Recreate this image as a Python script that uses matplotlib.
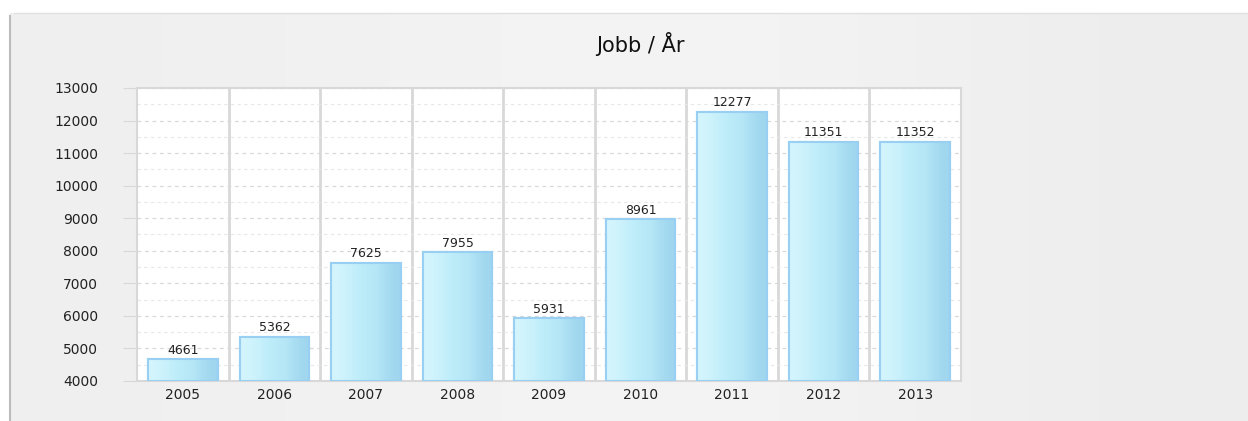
import numpy as np
import matplotlib.pyplot as plt
from matplotlib.patches import Rectangle
from matplotlib.ticker import MultipleLocator
from matplotlib.colors import LinearSegmentedColormap

# data
years = ['2005', '2006', '2007', '2008', '2009', '2010', '2011', '2012', '2013']
jobs = [4661, 5362, 7625, 7955, 5931, 8961, 12277, 11351, 11352]
y_ticks = [4000, 5000, 6000, 7000, 8000, 9000, 10000, 11000, 12000, 13000]

fig = plt.figure(figsize=(12.48, 4.21), dpi=100)
fig.patch.set_facecolor('white')

# grey panel behind everything (with a light horizontal gradient)
bg = fig.add_axes([0, 0, 1, 1], zorder=-10)
bg.set_xlim(0, 1248)
bg.set_ylim(421, 0)
bg.axis('off')
grad = np.array([[0.935, 0.95, 0.955, 0.925]])
bg.imshow(grad, cmap='gray', vmin=0, vmax=1, aspect='auto',
          extent=[10, 1248, 421, 13], interpolation='bicubic')
bg.plot([10, 10], [421, 16], color='#bbbbbb', lw=1.5)
bg.plot([14, 1248], [13, 13], color='#e0e0e0', lw=1)

fig.text(0.513, 0.895, 'Jobb / År', ha='center', va='center',
         fontsize=15, color='#111111')

ax = fig.add_axes([137 / 1248, 1 - 381 / 421, (961 - 137) / 1248, (381 - 88) / 421])
ax.set_facecolor('white')
ax.set_xlim(-0.5, len(years) - 0.5)
ax.set_ylim(4000, 13000)
x = np.arange(len(years))
bars = ax.bar(x, jobs, width=0.76, color='#c6eefa', edgecolor='#99cff2',
              linewidth=1.5, zorder=3)

# gradient fill clipped to each bar
g = np.array([[0.0, 0.35, 0.6, 1.0]])
cm = LinearSegmentedColormap.from_list('bar', ['#d4f5fd', '#c0eefa', '#b4e6f6', '#9fd6ee'])
ybot = ax.get_ylim()[0]
for b in bars:
    im = ax.imshow(g, cmap=cm, aspect='auto', interpolation='bicubic',
                   extent=[b.get_x(), b.get_x() + b.get_width(), ybot, b.get_height()],
                   zorder=3.5)
    im.set_clip_path(b)
    ax.add_patch(Rectangle((b.get_x(), ybot), b.get_width(), b.get_height() - ybot,
                           fill=False, edgecolor='#99cff2', lw=1.5, zorder=4))

for xi, v in zip(x, jobs):
    ax.text(xi, v + 80, str(v), ha='center', va='bottom', fontsize=9,
            color='#222222', zorder=5)

ax.set_xlim(-0.5, len(years) - 0.5)
ax.set_ylim(4000, 13000)
ax.set_yticks(y_ticks)
ax.set_yticklabels([str(t) for t in y_ticks])
ax.yaxis.set_minor_locator(MultipleLocator(500))
ax.set_xticks(x)
ax.set_xticklabels(years)

ax.grid(axis='y', which='major', color='#d8d8d8', linestyle=(0, (3, 3)), lw=0.9, zorder=0)
ax.grid(axis='y', which='minor', color='#e8e8e8', linestyle=(0, (3, 3)), lw=0.8, zorder=0)

# vertical separators between categories
for xs in np.arange(0.5, len(years) - 0.5, 1):
    ax.axvline(xs, color='#d8d8d8', lw=2, zorder=1)

for s in ax.spines.values():
    s.set_color('#d8d8d8')
    s.set_linewidth(1.5)

ax.tick_params(axis='y', which='major', length=10, color='#d8d8d8', pad=18,
               labelsize=10, labelcolor='#222222')
ax.tick_params(axis='y', which='minor', length=0)
ax.tick_params(axis='x', length=0, pad=5, labelsize=10, labelcolor='#222222')

fig.savefig('out.png', dpi=100)
